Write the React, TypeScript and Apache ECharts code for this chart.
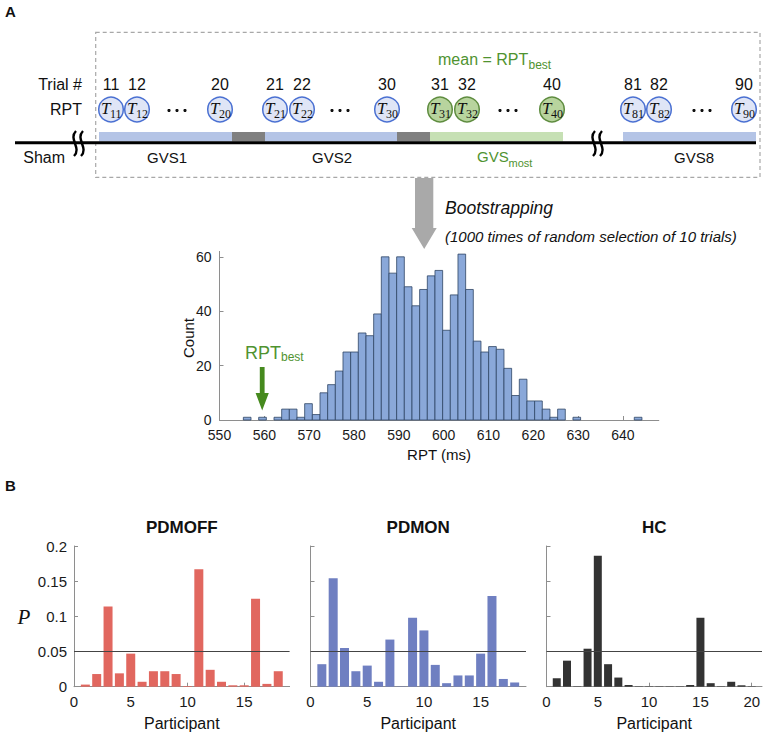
import React, { useEffect, useRef } from 'react';
import * as echarts from 'echarts';

// ---------- DATA ----------
const histBinStart = 555.32;
const histBinWidth = 1.71;
const histCounts = [1, 0, 1, 0, 1, 4, 4, 1, 6, 2, 10, 13, 18, 25, 25, 32, 31, 39, 60, 54, 60, 49, 42, 48, 53, 55, 33, 46, 61, 48, 29, 25, 27, 26, 19, 9, 15, 7, 7, 4, 1, 4, 0, 1, 0, 0, 0, 0, 0, 0, 0, 1];
const histXTicks = [550, 560, 570, 580, 590, 600, 610, 620, 630, 640];
const histYTicks = [0, 20, 40, 60];

const pdmoffValues = [0.003, 0.018, 0.114, 0.019, 0.047, 0.007, 0.022, 0.022, 0.018, 0.001, 0.167, 0.024, 0.007, 0.002, 0.002, 0.125, 0.004, 0.022];
const pdmonValues = [0.032, 0.154, 0.055, 0.022, 0.030, 0.007, 0.067, 0.0005, 0.098, 0.080, 0.031, 0.005, 0.016, 0.016, 0.047, 0.129, 0.011, 0.006];
const hcValues = [0.012, 0.037, 0.0005, 0.054, 0.186, 0.032, 0.013, 0.0024, 0.0005, 0.0005, 0.0005, 0.0005, 0.0005, 0.0024, 0.098, 0.005, 0.0005, 0.007, 0.002, 0.0005];
const pdTicks = [0, 5, 10, 15];
const hcTicks = [0, 5, 10, 15, 20];
const pTicks = [0, 0.05, 0.1, 0.15, 0.2];
const threshold = 0.05;
const panelTitles = ['PDMOFF', 'PDMON', 'HC'];

const trialLabels = ['11', '12', '20', '21', '22', '30', '31', '32', '40', '81', '82', '90'];
const mostTrials = ['31', '32', '40'];
const blockLabels = ['GVS1', 'GVS2', 'GVS8'];

// ---------- LAYOUT ----------
const trialLayoutX = [111, 137, 220, 275, 302, 387, 440, 467, 552, 633, 659, 744];
const dotsLayoutX = [177, 340, 508, 702];
const blockLabelLayoutX = [167, 332, 694];

const FONT = '"Liberation Sans", Arial, Helvetica, sans-serif';
const SERIF = '"Liberation Serif", "DejaVu Serif", serif';
const GREEN = '#4f9330';
const AXIS = '#8e8e8e';

type TOpts = { fill?: string; size?: number; family?: string; weight?: string; fstyle?: string; align?: string; rotation?: number };
const txt = (x: number, y: number, text: string, o: TOpts = {}) => ({
  type: 'text',
  x,
  y,
  rotation: o.rotation || 0,
  silent: true,
  style: {
    text,
    fill: o.fill || '#111',
    fontSize: o.size || 16,
    fontFamily: o.family || FONT,
    fontWeight: o.weight || 'normal',
    fontStyle: o.fstyle || 'normal',
    textAlign: o.align || 'left',
    textVerticalAlign: 'middle',
    verticalAlign: 'middle',
  },
});

function buildGraphics() {
  const g: any[] = [];
  g.push(txt(5, 11, 'A', { size: 15, weight: 'bold' }));
  g.push({ type: 'rect', silent: true, shape: { x: 95.7, y: 32.3, width: 664.3, height: 145 }, style: { fill: 'none', stroke: '#a8a8a8', lineWidth: 1.2, lineDash: [4, 3] } });
  g.push(txt(438, 59.5, 'mean = RPT', { fill: GREEN, size: 16 }));
  g.push(txt(528.5, 64.5, 'best', { fill: GREEN, size: 12 }));
  g.push(txt(82, 84, 'Trial #', { align: 'right' }));
  g.push(txt(82, 109, 'RPT', { align: 'right' }));
  const cy = 109.5;
  trialLabels.forEach((lab, i) => {
    const cx = trialLayoutX[i];
    const green = mostTrials.includes(lab);
    g.push(txt(cx, 84, lab, { align: 'center' }));
    g.push({ type: 'circle', silent: true, shape: { cx, cy, r: 12.3 }, style: { fill: green ? '#b8d49e' : '#dfe5f6', stroke: green ? '#5e8c3f' : '#4a70d2', lineWidth: 1.5 } });
    g.push(txt(cx - 0.5, cy - 1, 'T', { align: 'right', size: 17, family: SERIF, fstyle: 'italic' }));
    g.push(txt(cx - 1, cy + 4.5, lab, { size: 12, family: SERIF }));
  });
  dotsLayoutX.forEach((dx) => {
    [-8, 0, 8].forEach((o) => g.push({ type: 'circle', silent: true, shape: { cx: dx + o, cy: 110.5, r: 1.6 }, style: { fill: '#111' } }));
  });
  const segs: [number, number, string][] = [
    [99, 232, '#b4c4e6'], [232, 265, '#808080'], [265, 397, '#b4c4e6'], [397, 430, '#808080'], [430, 563, '#c6e0b4'], [623, 756, '#b4c4e6'],
  ];
  segs.forEach(([a, b, c]) => g.push({ type: 'rect', silent: true, shape: { x: a, y: 132, width: b - a, height: 9.5 }, style: { fill: c } }));
  g.push({ type: 'line', silent: true, shape: { x1: 15, y1: 142.7, x2: 756, y2: 142.7 }, style: { stroke: '#000', lineWidth: 3 } });
  [75, 82, 594, 601].forEach((bx) => {
    g.push({ type: 'bezierCurve', silent: true, shape: { x1: bx + 1, y1: 131, cpx1: bx - 7, cpy1: 139, cpx2: bx + 7, cpy2: 148, x2: bx - 1, y2: 156 }, style: { fill: 'none', stroke: '#000', lineWidth: 2.4 } });
  });
  g.push(txt(23.3, 157, 'Sham', { size: 16 }));
  blockLabels.forEach((b, i) => g.push(txt(blockLabelLayoutX[i], 157, b, { size: 15, align: 'center' })));
  g.push(txt(477, 156.7, 'GVS', { size: 15, fill: GREEN }));
  g.push(txt(508.5, 162.5, 'most', { size: 11, fill: GREEN }));
  // gray arrow
  g.push({ type: 'polygon', silent: true, shape: { points: [[415, 178], [433.3, 178], [433.3, 228], [436.7, 228], [424.2, 249], [411.7, 228], [415, 228]] }, style: { fill: '#a9a9a9' } });
  g.push(txt(445, 208, 'Bootstrapping', { size: 17.5, fstyle: 'italic' }));
  g.push(txt(445, 236.7, '(1000 times of random selection of 10 trials)', { size: 15, fstyle: 'italic' }));
  // RPT best in histogram
  g.push(txt(245, 352.7, 'RPT', { size: 18, fill: GREEN }));
  g.push(txt(281, 357, 'best', { size: 12, fill: GREEN }));
  g.push({ type: 'polygon', silent: true, shape: { points: [[259.8, 367], [264.6, 367], [264.6, 393], [268.8, 393], [262.2, 410.5], [255.6, 393], [259.8, 393]] }, style: { fill: '#468a1e' } });
  g.push(txt(188, 338, 'Count', { size: 15, align: 'center', rotation: Math.PI / 2 }));
  g.push(txt(439, 454, 'RPT (ms)', { size: 15, align: 'center' }));
  // panel B
  g.push(txt(5, 485, 'B', { size: 15, weight: 'bold' }));
  const centers = [181.8, 418.2, 654.2];
  panelTitles.forEach((t, i) => {
    g.push(txt(centers[i], 527, t, { size: 17, weight: 'bold', align: 'center' }));
    g.push(txt(centers[i], 723, 'Participant', { size: 16, align: 'center' }));
  });
  g.push(txt(24, 617, 'P', { size: 21, family: SERIF, fstyle: 'italic', align: 'center' }));
  return g;
}

const valueAxis = (gridIndex: number, min: number, max: number, ticks: number[], showLabels: boolean, fontSize: number, margin: number) => ({
  type: 'value',
  gridIndex,
  min,
  max,
  axisLine: { show: true, onZero: false, lineStyle: { color: AXIS, width: 1 } },
  axisTick: { show: true, inside: true, length: 4, customValues: ticks, lineStyle: { color: AXIS } },
  axisLabel: {
    show: showLabels,
    customValues: ticks,
    fontSize,
    fontFamily: FONT,
    color: '#1a1a1a',
    margin,
    formatter: (v: number) => String(+Number(v).toFixed(3)),
  },
  splitLine: { show: false },
});

export default function App() {
  const ref = useRef<HTMLDivElement>(null);
  useEffect(() => {
    if (!ref.current) return;
    const chart = echarts.init(ref.current, undefined, { renderer: 'svg' });
    const histData = histCounts
      .map((c, i) => [histBinStart + i * histBinWidth, histBinStart + (i + 1) * histBinWidth, c])
      .filter((d) => d[2] > 0);
    const bottomTop = 546;
    const bottomH = 140.7;
    const barSeries = (idx: number, vals: number[], color: string, width: number) => ({
      type: 'bar',
      xAxisIndex: idx,
      yAxisIndex: idx,
      barWidth: width,
      itemStyle: { color },
      data: vals.map((v, i) => [i + 1, v]),
      markLine: {
        silent: true,
        symbol: 'none',
        label: { show: false },
        lineStyle: { color: '#444', width: 1.1, type: 'solid' },
        data: [{ yAxis: threshold }],
      },
    });
    const option: any = {
      animation: false,
      backgroundColor: '#fff',
      grid: [
        { left: 219.5, top: 251.4, width: 439.3, height: 168.6, outerBoundsMode: 'none' },
        { left: 74, top: bottomTop, width: 215.6, height: bottomH, outerBoundsMode: 'none' },
        { left: 310.5, top: bottomTop, width: 215.5, height: bottomH, outerBoundsMode: 'none' },
        { left: 546.5, top: bottomTop, width: 215.5, height: bottomH, outerBoundsMode: 'none' },
      ],
      xAxis: [
        valueAxis(0, 550, 648, histXTicks, true, 14, 8),
        valueAxis(1, 0, pdmoffValues.length + 1, pdTicks, true, 15, 7),
        valueAxis(2, 0, pdmonValues.length + 1, pdTicks, true, 15, 7),
        valueAxis(3, 0, hcValues.length + 1, hcTicks, true, 15, 7),
      ],
      yAxis: [
        valueAxis(0, 0, 62, histYTicks, true, 14, 8),
        valueAxis(1, 0, 0.2, pTicks, true, 15, 7),
        valueAxis(2, 0, 0.2, pTicks, false, 15, 7),
        valueAxis(3, 0, 0.2, pTicks, false, 15, 7),
      ],
      series: [
        {
          type: 'custom',
          xAxisIndex: 0,
          yAxisIndex: 0,
          data: histData,
          encode: { x: [0, 1], y: 2 },
          renderItem: (_p: any, api: any) => {
            const s = api.coord([api.value(0), api.value(2)]);
            const e = api.coord([api.value(1), 0]);
            return {
              type: 'rect',
              shape: { x: s[0], y: s[1], width: e[0] - s[0], height: e[1] - s[1] },
              style: { fill: '#8aa8d9', stroke: '#2f4565', lineWidth: 0.8 },
            };
          },
        },
        barSeries(1, pdmoffValues, '#e1675f', 9),
        barSeries(2, pdmonValues, '#6f7fc1', 9),
        barSeries(3, hcValues, '#333333', 8),
      ],
      graphic: buildGraphics(),
    };
    chart.setOption(option);
    return () => chart.dispose();
  }, []);
  return <div ref={ref} style={{ position: 'absolute', left: 0, top: 0, width: 767, height: 735, background: '#fff' }} />;
}
